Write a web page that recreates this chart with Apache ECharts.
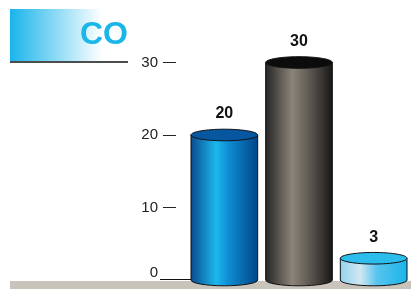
<!DOCTYPE html>
<html>
<head>
<meta charset="utf-8">
<script src="https://cdn.jsdelivr.net/npm/echarts@6/dist/echarts.min.js"></script>
<style>
  html, body { margin: 0; padding: 0; background: #fff; }
  #main { width: 411px; height: 289px; }
</style>
</head>
<body>
<div id="main"></div>
<script>
// data
var categories = ['A', 'B', 'C'];
var values = [20, 30, 3];
var yTicks = [0, 10, 20, 30];

// cylinder colours per bar: [left, highlight, right, top]
var cylColors = [
  { stops: [[0, '#0a4a8c'], [0.38, '#1cb8ee'], [0.55, '#0f8fd4'], [1, '#004487']], top: '#0656a0' },
  { stops: [[0, '#242424'], [0.4, '#8c8478'], [0.7, '#55504b'], [1, '#161616']], top: '#0c0c0c' },
  { stops: [[0, '#8fd2ef'], [0.3, '#d2e7f2'], [0.55, '#56c4ee'], [1, '#1ab4ea']], top: '#2cbdec' }
];

var myChart = echarts.init(document.getElementById('main'), null, { renderer: 'canvas' });

function renderCylinder(params, api) {
  var idx = api.value(0);
  var v = api.value(1);
  var top = api.coord([idx, v]);
  var base = api.coord([idx, 0]);
  var w = api.size([1, 0])[0] * 0.893;
  var rx = w / 2, ry = 5.8;
  var x1 = top[0] - rx, x2 = top[0] + rx;
  var c = cylColors[idx];
  var path = 'M' + x1 + ' ' + top[1] + ' L' + x1 + ' ' + base[1] +
    ' A' + rx + ' ' + ry + ' 0 0 0 ' + x2 + ' ' + base[1] +
    ' L' + x2 + ' ' + top[1] + ' Z';
  return {
    type: 'group',
    children: [
      {
        type: 'path',
        shape: { pathData: path },
        style: {
          fill: new echarts.graphic.LinearGradient(0, 0, 1, 0, c.stops.map(function (s) {
            return { offset: s[0], color: s[1] };
          })),
          stroke: '#111',
          lineWidth: 1
        }
      },
      {
        type: 'ellipse',
        shape: { cx: top[0], cy: top[1], rx: rx, ry: ry },
        style: { fill: c.top, stroke: '#111', lineWidth: 1 }
      },
      {
        type: 'text',
        style: {
          text: String(v),
          x: top[0],
          y: top[1] - 21,
          align: 'center',
          verticalAlign: 'middle',
          font: 'bold 16px "Liberation Sans", Arial, sans-serif',
          fill: '#111'
        }
      }
    ]
  };
}

option = {
  animation: false,
  grid: { left: 187, right: -1, top: 62.5, bottom: 9 },
  xAxis: {
    type: 'category',
    data: categories,
    show: false
  },
  yAxis: {
    type: 'value',
    min: 0,
    max: 30,
    interval: 10,
    offset: 11,
    axisLine: { show: false },
    splitLine: { show: false },
    axisTick: {
      show: true,
      length: 13,
      customValues: yTicks.slice(1),
      lineStyle: { color: '#222', width: 1 }
    },
    axisLabel: {
      margin: 18,
      color: '#222',
      fontSize: 15,
      fontFamily: '"Liberation Sans", Arial, sans-serif',
      verticalAlignMinLabel: 'bottom',
      customValues: yTicks
    }
  },
  graphic: [
    {
      type: 'rect',
      shape: { x: 10, y: 9, width: 92, height: 52 },
      style: {
        fill: new echarts.graphic.LinearGradient(0, 0, 1, 0, [
          { offset: 0, color: '#1ab4ea' },
          { offset: 1, color: '#ffffff' }
        ])
      },
      z: 0
    },
    {
      type: 'line',
      shape: { x1: 10, y1: 62, x2: 128, y2: 62 },
      style: { stroke: '#111', lineWidth: 1.5 },
      z: 1
    },
    {
      type: 'text',
      style: {
        text: 'CO',
        x: 104,
        y: 35,
        align: 'center',
        verticalAlign: 'middle',
        font: 'bold 32px "Liberation Sans", Arial, sans-serif',
        fill: '#1ab5e9'
      },
      z: 1
    },
    {
      type: 'rect',
      shape: { x: 10, y: 281, width: 401, height: 8 },
      style: { fill: '#c8c4bb' },
      z: 0
    },
    {
      type: 'line',
      shape: { x1: 160, y1: 279.5, x2: 192, y2: 279.5 },
      style: { stroke: '#111', lineWidth: 1 },
      z: 0
    }
  ],
  series: [
    {
      type: 'custom',
      renderItem: renderCylinder,
      clip: false,
      encode: { x: 0, y: 1 },
      data: values.map(function (v, i) { return [i, v]; }),
      z: 5
    }
  ]
};

myChart.setOption(option);
</script>
</body>
</html>
